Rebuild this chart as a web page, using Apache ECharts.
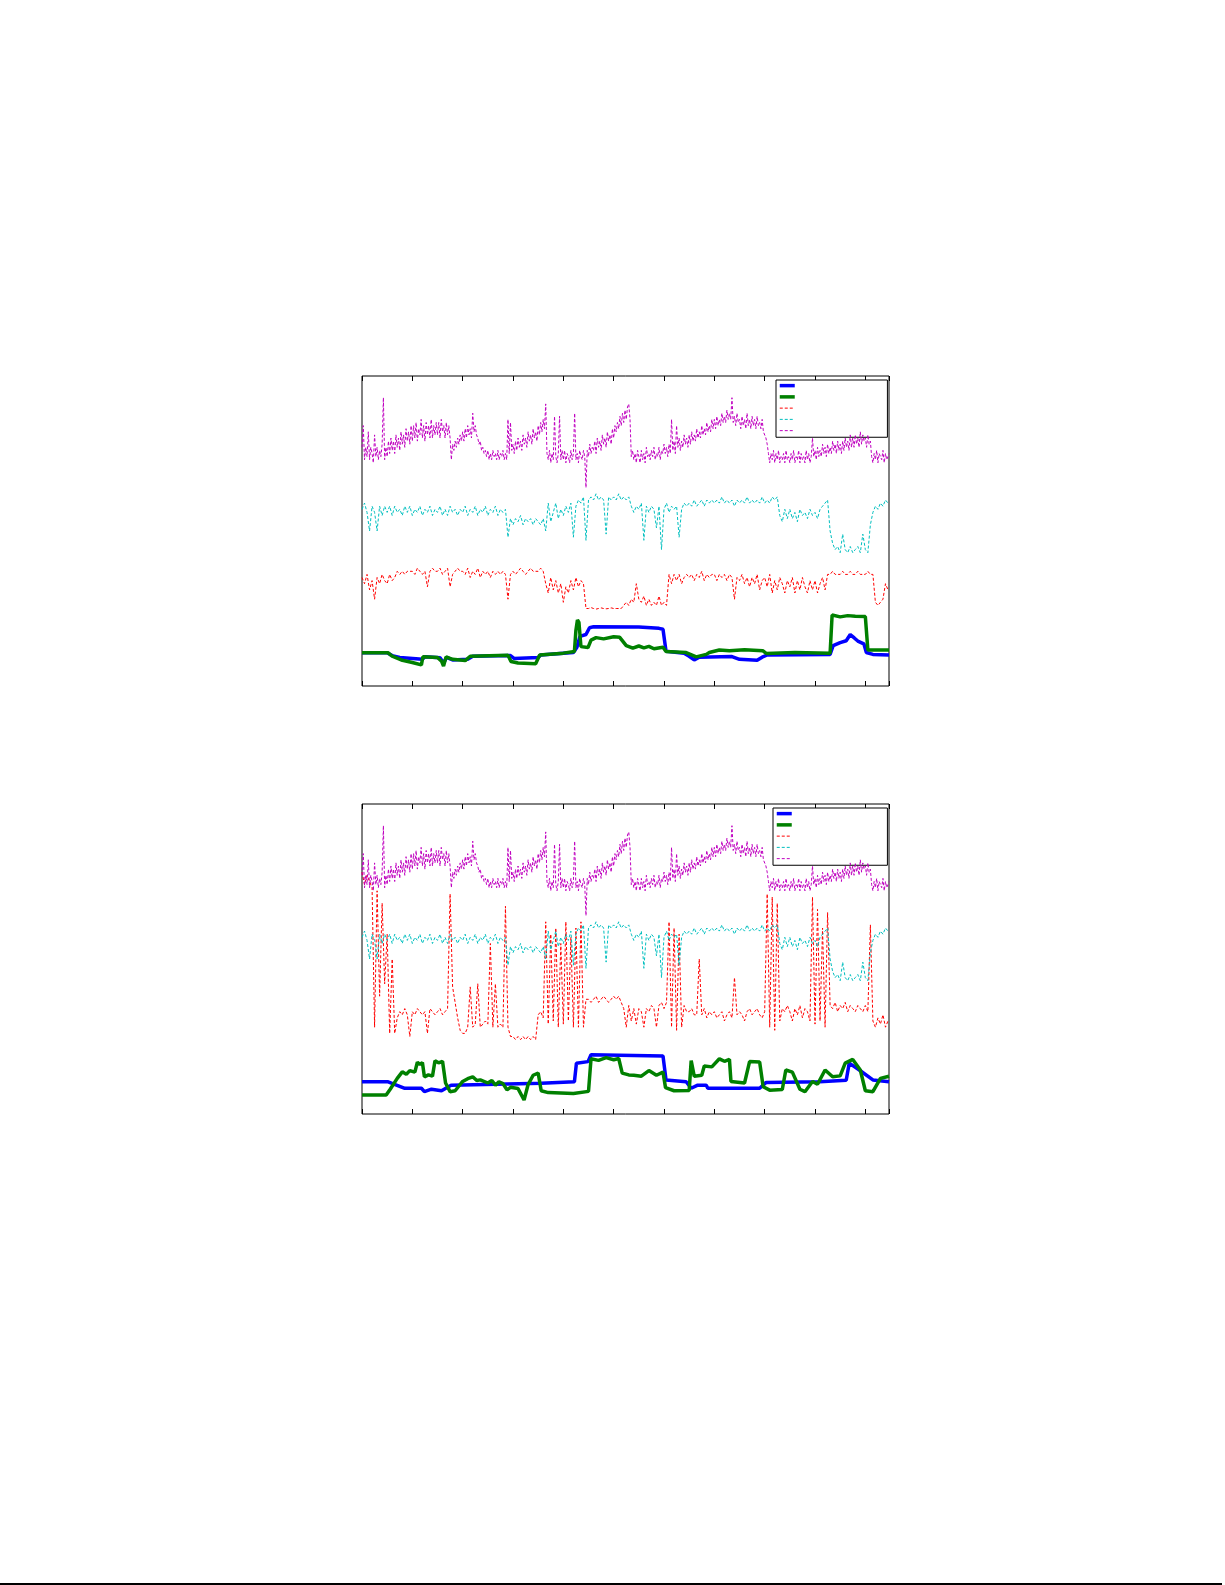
<!DOCTYPE html>
<html><head><meta charset="utf-8">
<script src="https://cdn.jsdelivr.net/npm/echarts@6/dist/echarts.min.js"></script>
<style>html,body{margin:0;padding:0;background:#fff}#c{width:1225px;height:1585px}</style>
</head><body><div id="c"></div>
<script>
// x positions are in tick units (10 ticks across, axis ends at 10.47); y is 0..100 (unlabelled axis)
const X_MAX = 10.47;
const X_TICK = 1;
const STEP = 0.05;        // spacing of the sampled noisy traces
const STEP_FINE = 0.025;  // spacing of the magenta trace
const NAMES = ['s1', 's2', 's3', 's4', 's5'];

// shared traces (same in both panels)
const magenta = [
77,84,73,77,74,82,73,77,75,72,81,74,77,73,76,74,78,93,73,77,
74,79,75,80,76,79,75,81,77,80,76,82,78,81,77,83,79,82,78,84,
79,84,80,85,79,83,81,86,80,84,79,85,81,84,80,86,80,84,81,85,
81,85,80,86,82,84,80,85,81,84,80,73,78,76,79,77,80,78,81,79,
82,79,83,80,84,81,83,80,88,82,84,81,80,78,79,76,77,75,76,74,
76,73,75,73,76,74,75,73,76,73,75,74,76,73,75,73,86,75,85,76,
78,75,79,76,80,77,79,76,81,78,80,77,82,79,81,78,83,80,82,79,
84,81,85,82,86,83,91,75,73,76,72,75,73,87,74,72,75,87,73,76,
73,76,72,75,74,72,76,73,75,88,73,75,72,76,74,73,76,74,64,76,
74,78,75,77,76,79,75,80,77,79,76,81,78,80,77,82,79,81,78,83,
80,84,82,85,83,87,84,88,85,89,86,90,91,86,74,76,73,75,72,76,
74,72,76,73,75,72,77,74,75,73,76,74,77,73,75,74,77,73,76,75,
78,75,77,74,78,75,86,76,79,75,84,77,80,76,79,77,81,78,80,77,
81,78,82,79,81,79,83,80,82,80,84,81,83,81,85,82,84,82,86,83,
86,83,87,84,86,84,88,85,87,85,89,86,88,86,93,85,87,84,88,85,
86,83,87,84,86,83,88,84,86,83,87,84,86,83,87,84,85,83,86,82,
82,80,78,75,72,75,73,76,72,75,73,76,72,74,73,75,72,76,73,74,
72,75,73,76,72,74,73,76,72,75,73,74,72,76,73,75,72,74,80,74,
76,73,77,74,76,74,78,75,77,74,78,75,77,75,79,76,78,75,79,76,
78,75,79,76,80,77,79,76,81,77,80,77,81,78,80,77,82,78,81,79,
80,77,81,78,79,74,72,75,73,76,72,75,74,73,76,72,75,73,74,75];
const cyan = [
57,59,56,50,58,56,50,58,55,58, 56,58,55,58,56,57,55,58,56,58,
55,57,56,58,55,57,56,58,55,57, 56,58,55,57,55,58,56,57,55,57,
56,58,55,57,56,58,55,57,56,58, 55,57,56,58,55,57,56,57,48,54,
52,54,53,55,52,54,53,54,52,54, 53,52,54,50,59,53,56,59,54,57,
55,58,56,59,48,58,60,59,61,47, 60,61,60,62,60,61,60,49,61,60,
61,60,62,60,61,60,61,58,56,58, 57,59,47,58,56,58,57,51,58,44,
57,59,56,58,57,58,48,57,59,58, 59,58,60,58,59,60,58,60,59,60,
59,60,59,61,59,60,59,60,58,60, 59,60,59,61,59,60,59,60,59,61,
59,60,59,61,60,61,55,53,57,54, 57,54,56,53,57,55,56,54,57,55,
56,54,57,58,59,60,50,46,44,45, 43,49,44,43,45,43,44,45,43,49,
44,43,52,56,58,57,59,58,60,59];

// panel 1 red trace
const red1 = [
35,33,36,31,34,28,35,33,36,34, 33,36,34,35,37,36,37,36,37,37,
37,36,38,37,36,37,32,37,38,37, 37,38,36,37,38,32,36,37,38,37,
37,36,38,35,37,36,38,35,37,36, 37,35,37,36,37,36,37,36,28,36,
37,36,37,38,37,36,37,38,37,37, 37,38,37,33,30,35,31,34,30,33,
27,32,30,34,31,35,32,34,33,25, 25,25.3,25,24.8,25,25.2,25,24.9,25,25.2,
25,25,25,25,26,27,26,28,27,33, 28,27,29,26,28,26,27,26,29,26,
27,26,36,33,36,34,36,33,35,36, 35,36,34,36,35,37,34,36,35,36,
36,34,36,35,36,34,36,35,28,35, 34,36,33,35,32,35,33,36,31,34,
35,32,36,30,34,31,35,33,30,34, 32,35,30,34,31,35,32,30,34,31,
34,30,33,35,31,36,36,37,36,36, 36,37,36,36,37,36,36,37,36,36,
36,37,36,36,27,26,27,28,33,31];

// panel 2 red trace
const red2 = [
78,74,77,75,73,28,72,38,68,42, 58,26,50,26,31,33,32,34,32,25,
33,32,34,33,32,33,26,34,33,32, 33,34,32,33,34,71,41,36,31,27,
26,26,28,41,28,29,42,28,29,30, 29,55,28,42,28,29,28,67,28,25,
25,24,25,24,25,24,25,24,25,24, 32,33,31,62,29,58,30,60,28,55,
29,62,30,57,28,60,28,62,28,37, 37,36,37,38,36,37,38,37,36,37,
38,37,38,36,34,28,35,30,34,29, 34,33,28,34,33,35,34,28,35,36,
34,36,62,28,60,27,58,28,35,33, 33,34,32,32,50,32,34,31,33,32,
33,31,32,33,30,32,33,31,44,32, 33,32,30,33,34,32,33,34,32,31,
33,71,28,70,27,68,30,34,33,35, 33,30,34,32,35,31,34,33,30,70,
29,66,30,60,28,65,35,34,36,33, 35,34,36,33,35,34,33,35,34,33,
35,33,61,30,28,31,29,32,28,30];

// thick traces: [x, y] pairs
const blue1 = [[0,10.7],[0.5,10.7],[0.6,9.8],[0.75,9.2],[1.2,8.6],[1.25,9.4],[1.55,9.1],[1.62,7.4],[1.68,9.2],[1.8,8.4],[2.1,8.6],[2.2,9.6],[2.95,9.8],[3.02,8.9],[3.5,9.2],[3.55,10.0],[4.2,10.8],[4.27,12.5],[4.33,16.0],[4.45,16.6],[4.52,18.8],[4.6,19.1],[5.5,19.0],[5.9,18.6],[5.98,18.3],[6.04,11.2],[6.4,10.6],[6.5,9.6],[6.6,8.4],[6.7,9.3],[7.35,9.5],[7.5,8.6],[7.85,8.3],[7.95,9.3],[8.05,10.0],[9.3,10.2],[9.36,13.0],[9.5,14.0],[9.62,14.6],[9.7,16.6],[9.78,15.5],[9.85,14.5],[9.97,13.6],[10.02,10.8],[10.15,10.2],[10.47,10.0]];
const green1 = [[0,10.7],[0.52,10.7],[0.6,9.6],[0.78,8.4],[1.0,7.6],[1.18,6.8],[1.21,9.4],[1.5,9.2],[1.58,8.0],[1.62,6.4],[1.67,9.4],[1.8,8.6],[2.05,8.2],[2.15,9.6],[2.9,9.9],[2.96,7.9],[3.1,7.4],[3.45,7.2],[3.53,10.0],[4.0,10.6],[4.22,11.1],[4.25,18.0],[4.28,21.3],[4.31,20.5],[4.35,12.7],[4.49,12.4],[4.55,14.8],[4.65,15.6],[4.8,15.2],[5.0,15.9],[5.12,15.7],[5.25,13.0],[5.38,12.2],[5.5,12.9],[5.6,12.3],[5.7,12.8],[5.8,12.0],[5.98,12.5],[6.04,11.1],[6.44,10.8],[6.64,9.4],[6.84,10.2],[6.9,10.8],[7.1,11.6],[7.3,11.4],[7.6,11.7],[7.96,11.4],[8.03,10.5],[8.6,10.8],[9.3,10.6],[9.34,22.9],[9.5,22.3],[9.65,22.7],[9.8,22.5],[10.0,22.4],[10.05,11.6],[10.47,11.6]];
const blue2 = [[0,10.4],[0.52,10.4],[0.85,8.3],[1.18,8.3],[1.24,7.2],[1.38,8.0],[1.58,7.5],[1.77,9.3],[3.56,9.9],[4.22,10.4],[4.26,16.4],[4.49,16.9],[4.55,19.1],[5.98,18.7],[6.04,11.0],[6.44,10.4],[6.54,8.3],[6.67,9.3],[6.84,9.3],[6.87,8.3],[7.9,8.3],[8.03,10.2],[9.09,10.4],[9.62,10.9],[9.68,16.4],[9.88,14.2],[10.15,11.0],[10.47,10.4]];
const green2 = [[0,6.1],[0.48,6.1],[0.56,8.0],[0.7,11.5],[0.8,13.6],[0.88,12.8],[0.95,14.0],[1.05,13.5],[1.1,16.7],[1.15,16.0],[1.2,16.6],[1.24,12.0],[1.32,12.6],[1.4,12.2],[1.45,17.2],[1.52,16.5],[1.6,17.0],[1.66,10.0],[1.75,7.2],[1.85,7.5],[2.0,10.5],[2.1,11.4],[2.2,12.0],[2.28,10.8],[2.35,11.0],[2.5,10.0],[2.58,10.8],[2.65,9.3],[2.72,10.4],[2.8,9.8],[2.88,7.8],[2.95,8.6],[3.1,8.2],[3.22,4.5],[3.3,9.5],[3.4,12.5],[3.5,13.2],[3.56,7.5],[3.7,6.9],[4.2,6.6],[4.5,7.3],[4.55,17.8],[4.7,17.3],[4.85,18.2],[5.0,17.5],[5.1,17.9],[5.17,13.2],[5.3,12.6],[5.4,12.5],[5.55,12.2],[5.7,14.0],[5.85,12.5],[5.98,13.5],[6.03,8.5],[6.2,7.5],[6.5,7.6],[6.54,17.2],[6.6,12.2],[6.75,12.5],[6.8,15.5],[6.95,15.2],[7.1,17.8],[7.2,17.0],[7.3,17.6],[7.33,10.5],[7.6,10.0],[7.7,16.9],[7.9,16.8],[7.97,8.8],[8.1,7.7],[8.35,7.9],[8.42,14.2],[8.55,13.5],[8.7,8.0],[8.8,7.2],[8.95,10.5],[9.05,9.6],[9.2,14.2],[9.35,12.0],[9.5,12.3],[9.6,16.4],[9.75,17.6],[9.9,14.2],[10.0,7.5],[10.15,7.2],[10.3,11.5],[10.47,12.2]];

function sampled(arr, step) { return arr.map((v, i) => [Math.round(i * step * 1000) / 1000, v]); }

const COLORS = ['#0000FF', '#008000', '#FF0000', '#00BFBF', '#BF00BF'];
function mk(k, data, panel) {
  const thick = k < 2;
  return {
    name: NAMES[k], type: 'line', xAxisIndex: panel * 2, yAxisIndex: panel,
    data: data, symbol: 'none', showSymbol: false, silent: true, animation: false,
    lineStyle: { color: COLORS[k], width: thick ? 3.5 : 1, type: thick ? 'solid' : [3, 2] },
    itemStyle: { color: COLORS[k] }, z: 2 + k
  };
}
const panels = [
  [blue1, green1, sampled(red1, STEP), sampled(cyan, STEP), sampled(magenta, STEP_FINE)],
  [blue2, green2, sampled(red2, STEP), sampled(cyan, STEP), sampled(magenta, STEP_FINE)]
];
const series = [];
panels.forEach((p, pi) => p.forEach((d, k) => series.push(mk(k, d, pi))));

const GRIDS = [{ top: 376 }, { top: 804 }];
const xAxis = [], yAxis = [];
GRIDS.forEach((g, gi) => {
  ['bottom', 'top'].forEach(pos => xAxis.push({
    gridIndex: gi, type: 'value', position: pos, min: 0, max: X_MAX, interval: X_TICK,
    axisLine: { show: false }, axisLabel: { show: false }, splitLine: { show: false },
    axisTick: { show: true, inside: true, length: 5, lineStyle: { color: '#000', width: 1 } }
  }));
  yAxis.push({
    gridIndex: gi, type: 'value', min: 0, max: 100,
    axisLine: { show: false }, axisLabel: { show: false }, splitLine: { show: false }, axisTick: { show: false }
  });
});

function legendAt(left, top, padRight) {
  return {
    data: NAMES, orient: 'vertical', left: left, top: top, itemWidth: 15, itemHeight: 6, itemGap: 0,
    padding: [0, padRight, 1, 2], borderColor: '#000', borderWidth: 1, backgroundColor: '#fff',
    formatter: () => ' ', textStyle: { fontSize: 6, lineHeight: 11.25, height: 11.25 }, selectedMode: false,
    itemStyle: { opacity: 0 }, lineStyle: { width: 'inherit' }
  };
}

const chart = echarts.init(document.getElementById('c'), null, { renderer: 'canvas' });
chart.setOption({
  backgroundColor: '#fff',
  animation: false,
  grid: GRIDS.map(g => ({ left: 362, top: g.top, width: 527, height: 310, show: true, borderColor: '#000', borderWidth: 1, backgroundColor: 'transparent' })),
  xAxis: xAxis, yAxis: yAxis,
  legend: [legendAt(776, 380, 86), legendAt(773, 808, 89)],
  graphic: [{ type: 'rect', left: 0, top: 1583, shape: { width: 1222, height: 2 }, style: { fill: '#000' }, silent: true }],
  series: series
});
</script></body></html>
